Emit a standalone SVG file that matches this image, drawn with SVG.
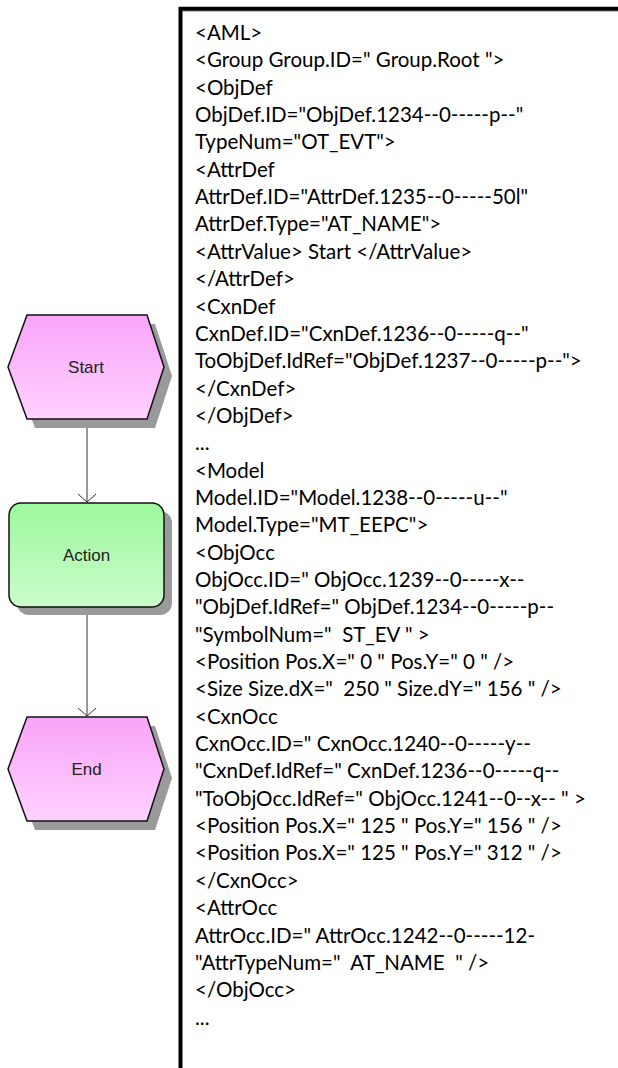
<svg xmlns="http://www.w3.org/2000/svg" width="618" height="1068" viewBox="0 0 618 1068">
<style>
.node{stroke:#111;stroke-width:1.5;stroke-linejoin:miter}
.shadow{fill:#9a9a9a;stroke:none}
.lbl{font-family:"Liberation Sans",Arial,sans-serif;font-size:17px;fill:#222;text-anchor:middle}
.code{font-family:Lato,"Open Sans",sans-serif;font-size:20.5px;fill:#000;white-space:pre}
.cxn{stroke:#333;stroke-width:1;fill:none}
</style>
<defs>
<linearGradient id="pink" x1="0" y1="0" x2="0" y2="1">
<stop offset="0" stop-color="#f8a4f8"/>
<stop offset="1" stop-color="#ffd2ff"/>
</linearGradient>
<linearGradient id="green" x1="0" y1="0" x2="0" y2="1">
<stop offset="0" stop-color="#9ef89e"/>
<stop offset="1" stop-color="#cafcca"/>
</linearGradient>
<marker id="arr" markerWidth="20" markerHeight="20" refX="9" refY="9" orient="auto" markerUnits="userSpaceOnUse">
<path d="M1,0 L9,9 L1,18" fill="none" stroke="#333" stroke-width="1"/>
</marker>
</defs>
<rect width="618" height="1068" fill="#fff"/>
<g id="textbox">
<path d="M182.5,11.2 H618" stroke="#a0a0a0" stroke-width="1.2" fill="none"/>
<path d="M180.5,1068 V8.8 H618" stroke="#000" stroke-width="4" fill="none"/>
<text class="code" x="195" y="40">
<tspan x="195" y="40">&lt;AML&gt;</tspan>
<tspan x="195" dy="27.35">&lt;Group Group.ID=" Group.Root "&gt;</tspan>
<tspan x="195" dy="27.35">&lt;ObjDef</tspan>
<tspan x="195" dy="27.35">ObjDef.ID="ObjDef.1234--0-----p--"</tspan>
<tspan x="195" dy="27.35">TypeNum="OT_EVT"&gt;</tspan>
<tspan x="195" dy="27.35">&lt;AttrDef</tspan>
<tspan x="195" dy="27.35">AttrDef.ID="AttrDef.1235--0-----50l"</tspan>
<tspan x="195" dy="27.35">AttrDef.Type="AT_NAME"&gt;</tspan>
<tspan x="195" dy="27.35">&lt;AttrValue&gt; Start &lt;/AttrValue&gt;</tspan>
<tspan x="195" dy="27.35">&lt;/AttrDef&gt;</tspan>
<tspan x="195" dy="27.35">&lt;CxnDef</tspan>
<tspan x="195" dy="27.35">CxnDef.ID="CxnDef.1236--0-----q--"</tspan>
<tspan x="195" dy="27.35">ToObjDef.IdRef="ObjDef.1237--0-----p--"&gt;</tspan>
<tspan x="195" dy="27.35">&lt;/CxnDef&gt;</tspan>
<tspan x="195" dy="27.35">&lt;/ObjDef&gt;</tspan>
<tspan x="195" dy="27.35">...</tspan>
<tspan x="195" dy="27.35">&lt;Model</tspan>
<tspan x="195" dy="27.35">Model.ID="Model.1238--0-----u--"</tspan>
<tspan x="195" dy="27.35">Model.Type="MT_EEPC"&gt;</tspan>
<tspan x="195" dy="27.35">&lt;ObjOcc</tspan>
<tspan x="195" dy="27.35">ObjOcc.ID=" ObjOcc.1239--0-----x--</tspan>
<tspan x="195" dy="27.35">"ObjDef.IdRef=" ObjDef.1234--0-----p--</tspan>
<tspan x="195" dy="27.35">"SymbolNum="  ST_EV " &gt;</tspan>
<tspan x="195" dy="27.35">&lt;Position Pos.X=" 0 " Pos.Y=" 0 " /&gt;</tspan>
<tspan x="195" dy="27.35">&lt;Size Size.dX="  250 " Size.dY=" 156 " /&gt;</tspan>
<tspan x="195" dy="27.35">&lt;CxnOcc</tspan>
<tspan x="195" dy="27.35">CxnOcc.ID=" CxnOcc.1240--0-----y--</tspan>
<tspan x="195" dy="27.35">"CxnDef.IdRef=" CxnDef.1236--0-----q--</tspan>
<tspan x="195" dy="27.35">"ToObjOcc.IdRef=" ObjOcc.1241--0--x-- " &gt;</tspan>
<tspan x="195" dy="27.35">&lt;Position Pos.X=" 125 " Pos.Y=" 156 " /&gt;</tspan>
<tspan x="195" dy="27.35">&lt;Position Pos.X=" 125 " Pos.Y=" 312 " /&gt;</tspan>
<tspan x="195" dy="27.35">&lt;/CxnOcc&gt;</tspan>
<tspan x="195" dy="27.35">&lt;AttrOcc</tspan>
<tspan x="195" dy="27.35">AttrOcc.ID=" AttrOcc.1242--0-----12-</tspan>
<tspan x="195" dy="27.35">"AttrTypeNum="  AT_NAME  " /&gt;</tspan>
<tspan x="195" dy="27.35">&lt;/ObjOcc&gt;</tspan>
<tspan x="195" dy="27.35">...</tspan>
</text>
</g>
<g id="connectors">
<path class="cxn" d="M87,420 V502" marker-end="url(#arr)"/>
<path class="cxn" d="M87,608 V716" marker-end="url(#arr)"/>
</g>
<g id="node-start">
<polygon class="shadow" points="35,324 155,324 172,376 155,428 35,428 16,376"/>
<polygon class="node" fill="url(#pink)" points="27,315 147,315 164,367 147,419 27,419 8,367"/>
<text class="lbl" x="86" y="373">Start</text>
</g>
<g id="node-action">
<rect class="shadow" x="17" y="511" width="155" height="104" rx="12"/>
<rect class="node" fill="url(#green)" x="9" y="503" width="155" height="104" rx="12"/>
<text class="lbl" x="86.5" y="561">Action</text>
</g>
<g id="node-end">
<polygon class="shadow" points="35,726 155,726 172,778 155,830 35,830 16,778"/>
<polygon class="node" fill="url(#pink)" points="27,717 147,717 164,769 147,821 27,821 8,769"/>
<text class="lbl" x="86.5" y="775">End</text>
</g>
</svg>
